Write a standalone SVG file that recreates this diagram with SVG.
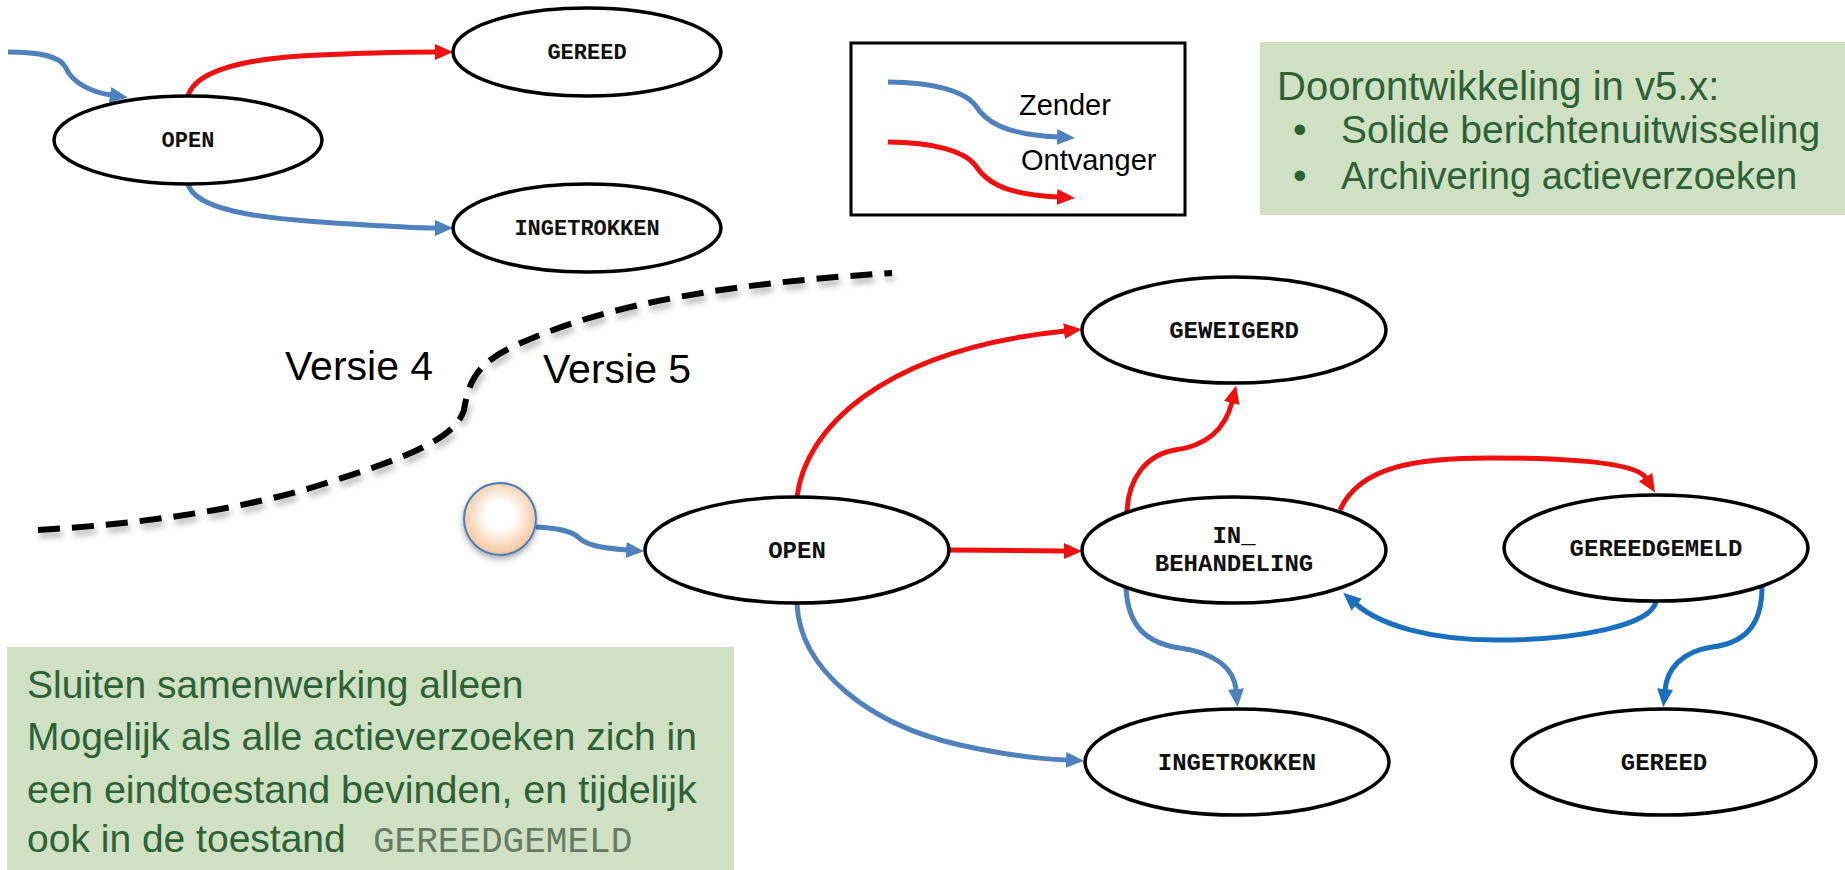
<svg xmlns="http://www.w3.org/2000/svg" width="1845" height="870" viewBox="0 0 1845 870">
  <style>
    .node ellipse { fill: #ffffff; stroke: #000000; stroke-width: 3.5; }
    .lbl4 { font-family: "Liberation Mono", "Courier New", monospace; font-weight: bold; font-size: 22px; text-anchor: middle; fill: #111; }
    .lbl5 { font-family: "Liberation Mono", "Courier New", monospace; font-weight: bold; font-size: 24px; text-anchor: middle; fill: #111; }
    .red { fill: none; stroke: #f01010; stroke-width: 5; marker-end: url(#ahRed); }
    .blue { fill: none; stroke: #4f81bd; stroke-width: 5; marker-end: url(#ahBlue); }
    .dblue { fill: none; stroke: #1a6fbf; stroke-width: 5; marker-end: url(#ahDBlue); }
    .sans { font-family: "Liberation Sans", Arial, sans-serif; }
    .note { font-family: "Liberation Sans", Arial, sans-serif; fill: #2d6236; }
  </style>
  <defs>
    <marker id="ahRed" markerUnits="userSpaceOnUse" markerWidth="18" markerHeight="16" refX="1" refY="8" orient="auto">
      <path d="M0,0 L18,8 L0,16 z" fill="#f01010"/>
    </marker>
    <marker id="ahBlue" markerUnits="userSpaceOnUse" markerWidth="18" markerHeight="16" refX="1" refY="8" orient="auto">
      <path d="M0,0 L18,8 L0,16 z" fill="#4f81bd"/>
    </marker>
    <marker id="ahDBlue" markerUnits="userSpaceOnUse" markerWidth="18" markerHeight="16" refX="1" refY="8" orient="auto">
      <path d="M0,0 L18,8 L0,16 z" fill="#1a6fbf"/>
    </marker>
    <radialGradient id="startFill" cx="50%" cy="45%" r="55%">
      <stop offset="0.35" stop-color="#ffffff"/>
      <stop offset="1" stop-color="#f6c296"/>
    </radialGradient>
    <filter id="shadow" x="-30%" y="-30%" width="160%" height="170%">
      <feDropShadow dx="0" dy="3" stdDeviation="3" flood-color="#000" flood-opacity="0.35"/>
    </filter>
    <filter id="lineShadow" x="-10%" y="-30%" width="120%" height="160%">
      <feDropShadow dx="2" dy="5" stdDeviation="3" flood-color="#000" flood-opacity="0.3"/>
    </filter>
  </defs>

  <rect width="1845" height="870" fill="#ffffff"/>

  <!-- Version divider -->
  <g id="divider">
    <path d="M38,530 C140,524 240,510 320,485 C400,460 455,440 464,410 C468,385 475,365 510,348 C590,310 700,285 892,273" fill="none" stroke="#000" stroke-width="6" stroke-dasharray="22 12" filter="url(#lineShadow)"/>
    <text class="sans" x="285" y="380" font-size="41" fill="#000">Versie 4</text>
    <text class="sans" x="543" y="383" font-size="41" fill="#000">Versie 5</text>
  </g>

  <!-- Connectors -->
  <g id="connectors">
    <!-- Version 4 -->
    <path class="blue" d="M8,52 C40,52 60,56 66,68 C72,82 90,92 111,95"/>
    <path class="red" d="M188,96 C195,72 240,60 300,56 C360,53 410,52 436,52"/>
    <path class="blue" d="M188,184 C195,210 260,218 320,222 C380,226 420,228 436,228"/>
    <!-- Version 5 -->
    <path class="blue" d="M536,527 C555,528 570,530 578,537 C586,545 600,548 627,550"/>
    <path class="red" d="M797,497 C805,430 880,350 1065,331"/>
    <path class="red" d="M948,550 L1065,551"/>
    <path class="red" d="M1127,512 C1128,480 1145,455 1175,450 C1205,446 1225,430 1232,402"/>
    <path class="red" d="M1340,510 C1360,465 1420,458 1490,458 C1565,458 1636,462 1646,478"/>
    <path class="dblue" d="M1656,602 C1650,625 1580,640 1496,640 C1430,640 1380,625 1356,604"/>
    <path class="blue" d="M1126,588 C1128,625 1145,643 1180,648 C1215,653 1234,668 1236,690"/>
    <path class="dblue" d="M1762,587 C1762,625 1745,643 1712,647 C1680,652 1667,670 1665,690"/>
    <path class="blue" d="M797,604 C800,670 870,725 960,745 C1010,756 1040,759 1067,760"/>
  </g>

  <!-- Version 4 nodes -->
  <g id="v4-open" class="node">
    <ellipse cx="188" cy="140" rx="134" ry="44"/>
    <text class="lbl4" x="188" y="147">OPEN</text>
  </g>
  <g id="v4-gereed" class="node">
    <ellipse cx="587" cy="52" rx="134" ry="44"/>
    <text class="lbl4" x="587" y="59">GEREED</text>
  </g>
  <g id="v4-ingetrokken" class="node">
    <ellipse cx="587" cy="228" rx="134" ry="44"/>
    <text class="lbl4" x="587" y="235">INGETROKKEN</text>
  </g>

  <!-- Legend -->
  <g id="legend">
    <rect x="851" y="43" width="334" height="172" fill="#fff" stroke="#000" stroke-width="3"/>
    <path d="M888,82 C935,82 965,92 975,105 C985,120 1000,134 1058,137" fill="none" stroke="#4f81bd" stroke-width="5" marker-end="url(#ahBlue)"/>
    <path d="M888,142 C935,142 965,152 975,165 C985,180 1000,194 1058,197" fill="none" stroke="#f01010" stroke-width="5" marker-end="url(#ahRed)"/>
    <text class="sans" x="1019" y="115" font-size="29" fill="#000">Zender</text>
    <text class="sans" x="1021" y="170" font-size="29" fill="#000">Ontvanger</text>
  </g>

  <!-- Note top right -->
  <g id="note-v5x">
    <rect x="1260" y="42" width="585" height="173" fill="#cfe0c3"/>
    <text class="note" x="1277" y="100" font-size="40">Doorontwikkeling in v5.x:</text>
    <text class="note" x="1293" y="143" font-size="39">•</text>
    <text class="note" x="1341" y="143" font-size="39">Solide berichtenuitwisseling</text>
    <text class="note" x="1293" y="189" font-size="39">•</text>
    <text class="note" x="1341" y="189" font-size="38">Archivering actieverzoeken</text>
  </g>

  <!-- Version 5 nodes -->
  <g id="v5-start">
    <circle cx="500" cy="519" r="36" fill="url(#startFill)" stroke="#4a7ebb" stroke-width="2" filter="url(#shadow)"/>
  </g>
  <g id="v5-open" class="node">
    <ellipse cx="797" cy="550" rx="152" ry="53"/>
    <text class="lbl5" x="797" y="558">OPEN</text>
  </g>
  <g id="v5-geweigerd" class="node">
    <ellipse cx="1234" cy="330" rx="152" ry="53"/>
    <text class="lbl5" x="1234" y="338">GEWEIGERD</text>
  </g>
  <g id="v5-in-behandeling" class="node">
    <ellipse cx="1234" cy="550" rx="152" ry="53"/>
    <text class="lbl5" x="1234" y="543">IN_</text>
    <text class="lbl5" x="1234" y="571">BEHANDELING</text>
  </g>
  <g id="v5-gereedgemeld" class="node">
    <ellipse cx="1656" cy="548" rx="152" ry="53"/>
    <text class="lbl5" x="1656" y="556">GEREEDGEMELD</text>
  </g>
  <g id="v5-ingetrokken" class="node">
    <ellipse cx="1237" cy="762" rx="152" ry="53"/>
    <text class="lbl5" x="1237" y="770">INGETROKKEN</text>
  </g>
  <g id="v5-gereed" class="node">
    <ellipse cx="1664" cy="762" rx="152" ry="53"/>
    <text class="lbl5" x="1664" y="770">GEREED</text>
  </g>

  <!-- Note bottom left -->
  <g id="note-sluiten">
    <rect x="7" y="647" width="727" height="223" fill="#cfe0c3"/>
    <text class="note" x="27" y="698" font-size="39">Sluiten samenwerking alleen</text>
    <text class="note" x="27" y="750" font-size="39">Mogelijk als alle actieverzoeken zich in</text>
    <text class="note" x="27" y="803" font-size="39.5">een eindtoestand bevinden, en tijdelijk</text>
    <text class="note" x="27" y="852" font-size="39">ook in de toestand</text>
    <text x="373" y="852" font-family="'Liberation Mono', 'Courier New', monospace" font-size="36" fill="#667a66">GEREEDGEMELD</text>
  </g>
</svg>
